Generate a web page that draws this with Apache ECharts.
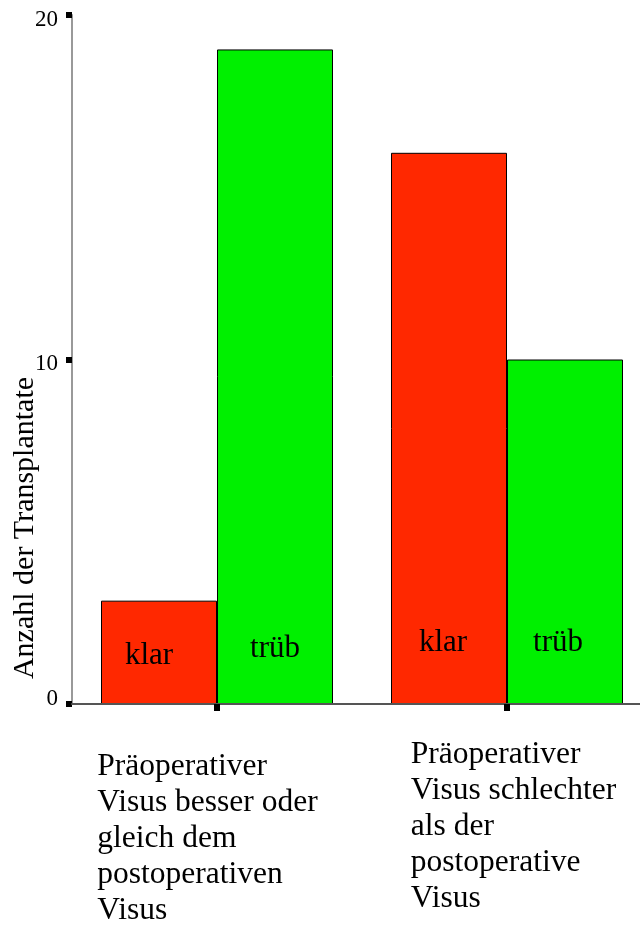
<!DOCTYPE html>
<html>
<head>
<meta charset="utf-8">
<script src="https://cdn.jsdelivr.net/npm/echarts@6/dist/echarts.min.js"></script>
<style>html,body{margin:0;padding:0;background:#fff}#c{width:640px;height:926px}</style>
</head>
<body>
<div id="c"></div>
<script>
// ---- data ----
var categories = [
  ['Präoperativer', 'Visus besser oder', 'gleich dem', 'postoperativen', 'Visus'],
  ['Präoperativer', 'Visus schlechter', 'als der', 'postoperative', 'Visus']
];
var seriesNames = ['klar', 'trüb'];
var klarValues = [3, 16];
var truebValues = [19, 10];
var yTicks = [0, 10, 20];
var yAxisTitle = 'Anzahl der Transplantate';

// ---- styling ----
var FONT = '"Liberation Serif", "Times New Roman", serif';
var labelOffsets = {
  klar: [[-10, -33], [-6, -46]],
  trueb: [[0, -40], [-7, -46]]
};
function mk(values, offs) {
  return values.map(function (v, i) {
    return { value: v, label: { offset: offs[i] } };
  });
}
var chart = echarts.init(document.getElementById('c'), null, { renderer: 'canvas' });
var catKeys = categories.map(function (c, i) { return 'c' + i; });
chart.setOption({
  animation: false,
  backgroundColor: '#fff',
  grid: { left: 72, top: 15, bottom: 222, right: -12, containLabel: false, outerBoundsMode: 'none' },
  xAxis: {
    type: 'category',
    data: catKeys,
    z: 10,
    axisLine: { show: true, lineStyle: { color: '#555', width: 2 } },
    axisTick: { show: true, interval: 0, alignWithLabel: true, length: 7, lineStyle: { color: '#000', width: 6 } },
    axisLabel: {
      interval: 0,
      margin: 33,
      align: 'center',
      formatter: function (v) {
        var i = catKeys.indexOf(v);
        var lines = categories[i].map(function (line) {
          return '{' + (i === 0 ? 'a' : 'b') + '|' + line + '}';
        });
        if (i === 0) lines.unshift('{s| }');
        return lines.join('\n');
      },
      rich: {
        s: { fontSize: 8, lineHeight: 12 },
        a: { fontFamily: FONT, fontSize: 31.5, color: '#000', lineHeight: 36, align: 'left', padding: [0, 19, 0, 0] },
        b: { fontFamily: FONT, fontSize: 31.5, color: '#000', lineHeight: 36, align: 'left', padding: [0, 0, 0, 13] }
      }
    },
    splitLine: { show: false }
  },
  yAxis: {
    type: 'value',
    min: yTicks[0],
    max: yTicks[yTicks.length - 1],
    interval: yTicks[1] - yTicks[0],
    axisLine: { show: true, lineStyle: { color: '#999', width: 2 } },
    axisTick: { show: true, length: 6, lineStyle: { color: '#000', width: 6 } },
    axisLabel: {
      margin: 14,
      formatter: function (v) { return v === 0 ? '{z|' + v + '}' : '{n|' + v + '}'; },
      rich: {
        z: { fontFamily: FONT, fontSize: 23, color: '#000', padding: [0, 0, 10, 0] },
        n: { fontFamily: FONT, fontSize: 23, color: '#000', padding: [9, 0, 0, 0] }
      }
    },
    splitLine: { show: false }
  },
  series: [
    {
      name: seriesNames[0],
      type: 'bar',
      data: mk(klarValues, labelOffsets.klar),
      barWidth: 116,
      barGap: '0%',
      itemStyle: { color: '#ff2800', borderColor: '#000', borderWidth: 1 },
      label: {
        show: true, position: 'insideBottom', distance: 0,
        formatter: function () { return seriesNames[0]; },
        fontFamily: FONT, fontSize: 31, color: '#000'
      }
    },
    {
      name: seriesNames[1],
      type: 'bar',
      data: mk(truebValues, labelOffsets.trueb),
      barWidth: 116,
      barGap: '0%',
      itemStyle: { color: '#00f000', borderColor: '#000', borderWidth: 1 },
      label: {
        show: true, position: 'insideBottom', distance: 0,
        formatter: function () { return seriesNames[1]; },
        fontFamily: FONT, fontSize: 31, color: '#000'
      }
    }
  ],
  graphic: [{
    type: 'text',
    x: 25, y: 528,
    rotation: Math.PI / 2,
    style: { text: yAxisTitle, font: '30px ' + FONT, fill: '#000', align: 'center', verticalAlign: 'middle' }
  }]
});
</script>
</body>
</html>
